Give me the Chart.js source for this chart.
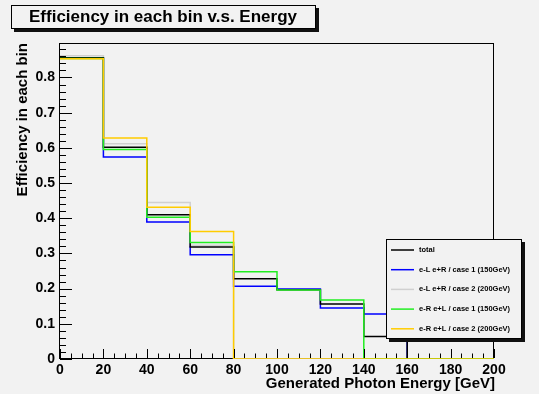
<!DOCTYPE html>
<html>
<head>
<meta charset="utf-8">
<title>Efficiency in each bin v.s. Energy</title>
<script src="https://cdn.jsdelivr.net/npm/chart.js@4/dist/chart.umd.min.js"></script>
<style>
    html, body { margin: 0; padding: 0; background: #f2f2f2; }
    canvas { display: block; background: #f2f2f2; }
</style>
</head>
<body>
<canvas id="effChart" width="539" height="394"></canvas>
<script>
// Histogram binning (GeV), 10 bins of 20 GeV
const binEdges = [0, 20, 40, 60, 80, 100, 120, 140, 160, 180, 200];

// Efficiency per bin, one value per bin
const effTotal = [0.856, 0.602, 0.410, 0.318, 0.228, 0.197, 0.156, 0.064, 0, 0];
const effLR1   = [0.856, 0.574, 0.389, 0.296, 0.207, 0.199, 0.145, 0.128, 0, 0];
const effLR2   = [0.862, 0.612, 0.445, 0.323, 0, 0, 0, 0, 0, 0];
const effRL1   = [0.854, 0.595, 0.403, 0.331, 0.248, 0.196, 0.168, 0, 0, 0];
const effRL2   = [0.853, 0.628, 0.431, 0.362, 0, 0, 0, 0, 0, 0];

const seriesLabels = [
    'total',
    'e-L e+R / case 1 (150GeV)',
    'e-L e+R / case 2 (200GeV)',
    'e-R e+L / case 1 (150GeV)',
    'e-R e+L / case 2 (200GeV)'
];

// Axis ticks
const xTicks = [0, 20, 40, 60, 80, 100, 120, 140, 160, 180, 200];
const yTicks = [0, 0.1, 0.2, 0.3, 0.4, 0.5, 0.6, 0.7, 0.8];
const yMax = 0.898;

const FONT = "'Liberation Sans', Arial, Helvetica, sans-serif";

// turn per-bin values into step points (left edge of each bin + closing edge)
function toSteps(values) {
    const pts = values.map((v, i) => ({ x: binEdges[i], y: v }));
    pts.push({ x: binEdges[binEdges.length - 1], y: values[values.length - 1] });
    return pts;
}

function histo(label, values, color, order) {
    return {
        label,
        data: toSteps(values),
        borderColor: color,
        backgroundColor: color,
        borderWidth: 1.5,
        pointRadius: 0,
        stepped: 'before',
        fill: false,
        order
    };
}

// Frame under the histograms, ROOT-style ticks drawn inside the frame on top
const frameTicks = {
    id: 'frameTicks',
    beforeDatasetsDraw(chart) {
        const { ctx, chartArea: a } = chart;
        ctx.save();
        ctx.strokeStyle = '#000';
        ctx.lineWidth = 1;
        ctx.strokeRect(Math.round(a.left) - 0.5, Math.round(a.top) + 0.5,
            Math.round(a.right - a.left), Math.round(a.bottom - a.top) - 1);
        ctx.restore();
    },
    afterDatasetsDraw(chart) {
        const { ctx, chartArea: a, scales: { x, y } } = chart;
        ctx.save();
        ctx.strokeStyle = '#000';
        ctx.lineWidth = 1;
        ctx.beginPath();
        // y: minor every 0.02, major every 0.1
        for (let i = 0; i * 0.02 <= yMax; i++) {
            const py = Math.round(y.getPixelForValue(i * 0.02)) + 0.5;
            const len = i % 5 === 0 ? 12 : 6;
            ctx.moveTo(a.left, py);
            ctx.lineTo(a.left + len, py);
        }
        // x: minor every 5, major every 20
        for (let i = 0; i * 5 <= 200; i++) {
            const px = Math.round(x.getPixelForValue(i * 5)) + 0.5;
            const len = i % 4 === 0 ? 9 : 4.5;
            ctx.moveTo(px, a.bottom - 1);
            ctx.lineTo(px, a.bottom - 1 - len);
        }
        ctx.stroke();
        ctx.restore();
    }
};

// Title box, axis titles and the legend box
const decorations = {
    id: 'decorations',
    afterDraw(chart) {
        const ctx = chart.ctx;
        ctx.save();

        // title pave with shadow
        ctx.fillStyle = '#111';
        ctx.fillRect(14, 8, 305, 24);
        ctx.fillStyle = '#f2f2f2';
        ctx.fillRect(11, 5, 305, 24);
        ctx.strokeStyle = '#000';
        ctx.lineWidth = 1;
        ctx.strokeRect(11.5, 5.5, 304, 23);
        ctx.fillStyle = '#000';
        ctx.font = `bold 17px ${FONT}`;
        ctx.textAlign = 'center';
        ctx.textBaseline = 'middle';
        ctx.fillText('Efficiency in each bin v.s. Energy', 163, 17.5);

        // axis titles
        ctx.font = `bold 15px ${FONT}`;
        ctx.textAlign = 'right';
        ctx.fillText('Generated Photon Energy [GeV]', 495, 384);
        ctx.save();
        ctx.translate(23, 43);
        ctx.rotate(-Math.PI / 2);
        ctx.fillText('Efficiency in each bin', 0, 0);
        ctx.restore();

        // legend pave
        const L = 386, T = 239, W = 136, H = 100;
        ctx.fillStyle = '#111';
        ctx.fillRect(L + 3, T + 3, W, H);
        ctx.fillStyle = '#f2f2f2';
        ctx.fillRect(L, T, W, H);
        ctx.strokeRect(L + 0.5, T + 0.5, W - 1, H - 1);
        ctx.font = `bold 7.5px ${FONT}`;
        ctx.textAlign = 'left';
        ctx.textBaseline = 'middle';
        chart.data.datasets.forEach((ds, i) => {
            const ry = T + 11 + i * 19.7;
            ctx.strokeStyle = ds.borderColor;
            ctx.lineWidth = 1.5;
            ctx.beginPath();
            ctx.moveTo(391, ry);
            ctx.lineTo(414, ry);
            ctx.stroke();
            ctx.fillStyle = '#000';
            ctx.fillText(ds.label, 419, ry);
        });

        ctx.restore();
    }
};

new Chart(document.getElementById('effChart'), {
    type: 'line',
    data: {
        datasets: [
            histo(seriesLabels[0], effTotal, '#000000', 2),
            histo(seriesLabels[1], effLR1, '#0000ff', 4),
            histo(seriesLabels[2], effLR2, '#d0d0d0', 3),
            histo(seriesLabels[3], effRL1, '#22ee22', 1),
            histo(seriesLabels[4], effRL2, '#ffcc00', 0)
        ]
    },
    options: {
        responsive: false,
        animation: false,
        devicePixelRatio: 1,
        layout: { padding: { left: 0, top: 43, right: 45, bottom: 0 } },
        plugins: {
            legend: { display: false },
            title: { display: false },
            tooltip: { enabled: false }
        },
        scales: {
            x: {
                type: 'linear',
                min: 0,
                max: 200,
                grid: { display: false, drawTicks: false },
                border: { display: false },
                afterBuildTicks: s => { s.ticks = xTicks.map(v => ({ value: v })); },
                afterFit: s => { s.height = 35; },
                ticks: {
                    padding: 3,
                    maxRotation: 0,
                    color: '#000',
                    font: { family: FONT, size: 14, weight: 'bold' }
                }
            },
            y: {
                type: 'linear',
                min: 0,
                max: yMax,
                grid: { display: false, drawTicks: false },
                border: { display: false },
                afterBuildTicks: s => { s.ticks = yTicks.map(v => ({ value: v })); },
                afterFit: s => { s.width = 60; },
                ticks: {
                    padding: 5,
                    color: '#000',
                    font: { family: FONT, size: 14, weight: 'bold' }
                }
            }
        }
    },
    plugins: [frameTicks, decorations]
});
</script>
</body>
</html>
